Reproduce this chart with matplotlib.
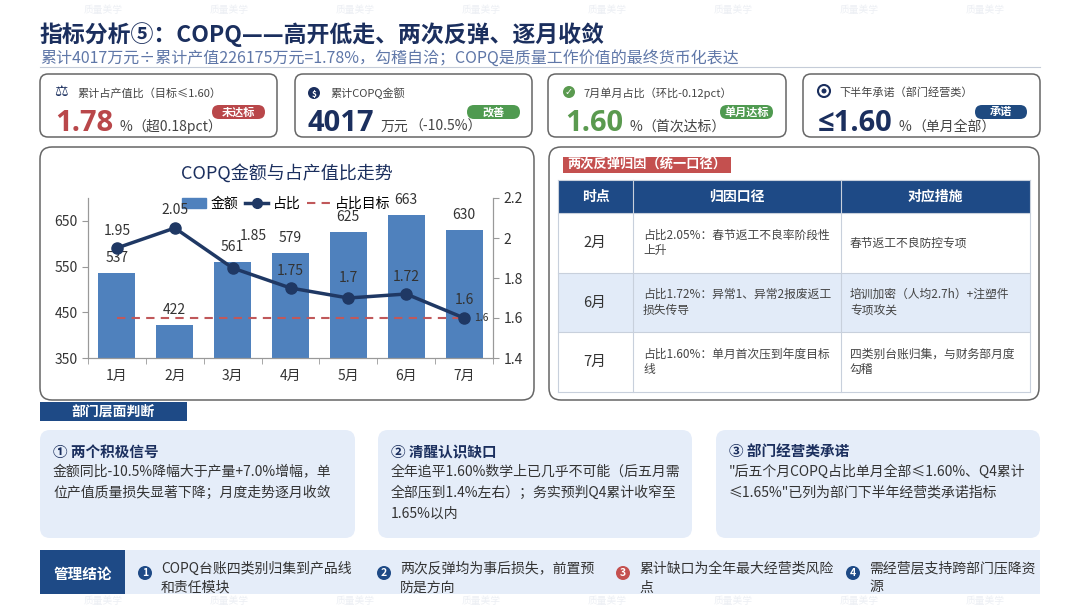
import matplotlib
matplotlib.use("Agg")
import matplotlib.pyplot as plt
from matplotlib.patches import FancyBboxPatch, Rectangle, Circle
from matplotlib.lines import Line2D

plt.rcParams['font.family'] = ['Noto Sans CJK SC', 'DejaVu Sans']

NAVY = '#1b2f5e'
BLUE_BAR = '#4f81bd'
LINE = '#1f3864'
RED = '#b9474a'
GREEN = '#5a9a4f'
GREY_TXT = '#444444'
LIGHT = '#e5edf9'
HEAD = '#1e4a86'

# data
months = ['1月', '2月', '3月', '4月', '5月', '6月', '7月']
amount = [537, 422, 561, 579, 625, 663, 630]
ratio = [1.95, 2.05, 1.85, 1.75, 1.70, 1.72, 1.60]
target = 1.6

kpi_labels = ['累计占产值比（目标≤1.60）', '累计COPQ金额', '7月单月占比（环比-0.12pct）', '下半年承诺（部门经营类）']
kpi_values = ['1.78', '4017', '1.60', '≤1.60']
kpi_units = ['%', '万元', '%', '%']
kpi_notes = ['（超0.18pct）', '（-10.5%）', '（首次达标）', '（单月全部）']
kpi_badges = ['未达标', '改善', '单月达标', '承诺']

table_header = ['时点', '归因口径', '对应措施']
table_points = ['2月', '6月', '7月']
table_causes = ['占比2.05%：春节返工不良率阶段性\n上升',
                '占比1.72%：异常1、异常2报废返工\n损失传导',
                '占比1.60%：单月首次压到年度目标\n线']
table_actions = ['春节返工不良防控专项',
                 '培训加密（人均2.7h）+注塑件\n专项攻关',
                 '四类别台账归集，与财务部月度\n勾稽']

judge_titles = ['① 两个积极信号', '② 清醒认识缺口', '③ 部门经营类承诺']
judge_texts = ['金额同比-10.5%降幅大于产量+7.0%增幅，单\n位产值质量损失显著下降；月度走势逐月收敛',
               '全年追平1.60%数学上已几乎不可能（后五月需\n全部压到1.4%左右）；务实预判Q4累计收窄至\n1.65%以内',
               '"后五个月COPQ占比单月全部≤1.60%、Q4累计\n≤1.65%"已列为部门下半年经营类承诺指标']

conclusions = ['COPQ台账四类别归集到产品线\n和责任模块',
               '两次反弹均为事后损失，前置预\n防是方向',
               '累计缺口为全年最大经营类风险\n点',
               '需经营层支持跨部门压降资\n源']

fig = plt.figure(figsize=(10.8, 6.08), dpi=100)
fig.patch.set_facecolor('white')
bg = fig.add_axes([0, 0, 1, 1])
bg.set_xlim(0, 1080)
bg.set_ylim(608, 0)
bg.axis('off')
renderer = fig.canvas.get_renderer()


def rbox(x0, y0, x1, y1, r, fc='white', ec='none', lw=1.0, z=1):
    p = FancyBboxPatch((x0, y0), x1 - x0, y1 - y0,
                       boxstyle=f'round,pad=0,rounding_size={r}',
                       fc=fc, ec=ec, lw=lw, zorder=z)
    bg.add_patch(p)


# faint watermarks
for k in range(8):
    bg.text(103 + 126 * k, 10, '质量美学', fontsize=7, color='#eceff4', ha='center', va='center')
    bg.text(103 + 126 * k, 601, '质量美学', fontsize=7, color='#eceff4', ha='center', va='center')

# title
bg.text(40, 35, '指标分析⑤：COPQ——高开低走、两次反弹、逐月收敛', fontsize=16.5,
        fontweight='bold', color=NAVY, va='center')
bg.text(40, 58, '累计4017万元÷累计产值226175万元=1.78%，勾稽自洽；COPQ是质量工作价值的最终货币化表达',
        fontsize=11.5, color='#5f77a8', va='center')
bg.plot([40, 1040], [67, 67], color='#c5ccd8', lw=0.8)

# kpi cards
card_x = [(40, 277), (295, 532), (548, 786), (803, 1040)]
num_x = [55, 308, 565, 818]
label_x = [77, 330, 583, 839]
badge_x = [(212, 265), (467, 520), (720, 773), (975, 1027)]
val_colors = [RED, NAVY, GREEN, NAVY]
badge_colors = [RED, '#4f9a50', '#4f9a50', '#1f4a80']

for i in range(4):
    x0, x1 = card_x[i]
    rbox(x0, 74, x1, 137, 8, fc='white', ec='#666666', lw=1.1)
    bg.text(label_x[i], 93, kpi_labels[i], fontsize=8, color=GREY_TXT, va='center')
    t = bg.text(num_x[i], 131, kpi_values[i], fontsize=21, fontweight='bold',
                color=val_colors[i], va='baseline', family=['Open Sans', 'DejaVu Sans'])
    xe = t.get_window_extent(renderer).x1
    t2 = bg.text(xe + 6, 131, kpi_units[i], fontsize=10, color=GREY_TXT, va='baseline')
    xe2 = t2.get_window_extent(renderer).x1
    bg.text(xe2 + 1, 131, kpi_notes[i], fontsize=10, color=GREY_TXT, va='baseline')
    bx0, bx1 = badge_x[i]
    rbox(bx0, 105, bx1, 119, 7, fc=badge_colors[i], z=2)
    bg.text((bx0 + bx1) / 2, 112, kpi_badges[i], fontsize=8, fontweight='bold',
            color='white', ha='center', va='center', zorder=3)

# icons
bg.text(61, 92, '⚖', fontsize=11, color=NAVY, ha='center', va='center', family='DejaVu Sans')
bg.add_patch(Circle((314, 93), 6, fc=NAVY, ec='none', zorder=2))
bg.text(314, 94, '$', fontsize=6, color='white', ha='center', va='center', fontweight='bold', zorder=3)
bg.add_patch(Circle((569, 92), 6, fc=GREEN, ec='none', zorder=2))
bg.text(569, 92, '✓', fontsize=7, color='white', ha='center', va='center', fontweight='bold',
        family='DejaVu Sans', zorder=3)
bg.add_patch(Circle((824, 91), 6, fc='none', ec=NAVY, lw=1.5, zorder=2))
bg.add_patch(Circle((824, 91), 2.5, fc=NAVY, ec='none', zorder=2))

# chart panel
rbox(40, 147, 534, 400, 12, fc='white', ec='#666666', lw=1.1)
bg.text(287, 173, 'COPQ金额与占产值比走势', fontsize=13, color=NAVY, ha='center', va='center')

ax = fig.add_axes([88 / 1080, 1 - 358 / 608, 405 / 1080, 160 / 608])
x = list(range(len(months)))
ax.bar(x, amount, width=0.64, color=BLUE_BAR, zorder=2)
ax.set_ylim(350, 700)
ax.set_xlim(-0.5, 6.5)
ax.set_yticks([350, 450, 550, 650])
ax.set_xticks(x)
ax.set_xticklabels(months)
ax.set_xticks([i + 0.5 for i in range(-1, 7)], minor=True)
ax.tick_params(axis='x', which='major', length=0, labelsize=10, colors='#333333', pad=8)
ax.tick_params(axis='x', which='minor', length=4, color='#999999')
ax.tick_params(axis='y', length=4, labelsize=10, colors='#333333', color='#999999')
ax.spines['top'].set_visible(False)
for s in ['left', 'right', 'bottom']:
    ax.spines[s].set_color('#999999')
for i, v in enumerate(amount):
    ax.annotate(str(v), (i, v), xytext=(0, 15), textcoords='offset pixels',
                ha='center', va='center', fontsize=10, color='#333333')

ax2 = ax.twinx()
ax2.set_ylim(1.4, 2.2)
ax2.set_yticks([1.4, 1.6, 1.8, 2.0, 2.2])
ax2.set_yticklabels(['1.4', '1.6', '1.8', '2', '2.2'])
ax2.tick_params(axis='y', length=4, labelsize=10, colors='#333333', color='#999999')
ax2.spines['top'].set_visible(False)
for s in ['left', 'right', 'bottom']:
    ax2.spines[s].set_color('#999999')
ax2.plot([0, 6], [target, target], ls=(0, (4, 3)), color='#c0585a', lw=1.5, zorder=3)
ax2.plot(x, ratio, color=LINE, lw=2.5, marker='o', markersize=8, zorder=4)
ratio_offsets = [(0, 17), (0, 18), (21, 32), (0, 17), (0, 20), (0, 17), (0, 18)]
for i, v in enumerate(ratio):
    ax2.annotate(f'{v:g}', (i, v), xytext=ratio_offsets[i], textcoords='offset pixels',
                 ha='center', va='center', fontsize=10, color='#333333')
ax2.annotate('1.6', (6, target), xytext=(17, 0), textcoords='offset pixels',
             ha='center', va='center', fontsize=7.5, color='#333333')

handles = [Rectangle((0, 0), 1, 1, color=BLUE_BAR),
           Line2D([], [], color=LINE, lw=2.5, marker='o', markersize=7),
           Line2D([], [], color='#c0585a', lw=1.5, ls=(0, (4, 3)))]
ax.legend(handles, ['金额', '占比', '占比目标'], loc='upper center', bbox_to_anchor=(0.49, 1.07),
          ncol=3, frameon=False, fontsize=10, handlelength=1.7, handletextpad=0.3,
          columnspacing=0.5, borderpad=0.2)

# right table panel
rbox(549, 147, 1039, 400, 12, fc='white', ec='#666666', lw=1.1)
bg.add_patch(Rectangle((563, 157), 168, 16, fc='#c4504f', ec='none', zorder=2))
bg.text(567, 165, '两次反弹归因（统一口径）', fontsize=9.5, fontweight='bold', color='white',
        va='center', zorder=3)

col_x = [558, 633, 841, 1030]
row_y = [180, 213, 273, 332, 392]
bg.add_patch(Rectangle((558, 180), 472, 33, fc=HEAD, ec='none', zorder=2))
bg.add_patch(Rectangle((558, 273), 472, 59, fc='#e2ebf8', ec='none', zorder=2))
for cx in col_x:
    bg.plot([cx, cx], [180, 392], color='#c8d0dc', lw=0.8, zorder=3)
for ry in row_y:
    bg.plot([558, 1030], [ry, ry], color='#c8d0dc', lw=0.8, zorder=3)
for j, h in enumerate(table_header):
    bg.text((col_x[j] + col_x[j + 1]) / 2, 197, h, fontsize=10, fontweight='bold',
            color='white', ha='center', va='center', zorder=4)
for k in range(3):
    cy = (row_y[k + 1] + row_y[k + 2]) / 2
    bg.text(595, cy, table_points[k], fontsize=10.5, color='#333333', ha='center', va='center', zorder=4)
    bg.text(643, cy, table_causes[k], fontsize=8.5, color=GREY_TXT, va='center', linespacing=1.25, zorder=4)
    bg.text(850, cy, table_actions[k], fontsize=8.5, color=GREY_TXT, va='center', linespacing=1.25, zorder=4)

# department judgement
bg.add_patch(Rectangle((40, 402), 147, 19, fc=HEAD, ec='none', zorder=2))
bg.text(113, 411.5, '部门层面判断', fontsize=10, fontweight='bold', color='white',
        ha='center', va='center', zorder=3)

judge_x = [(40, 355), (378, 692), (716, 1040)]
for i in range(3):
    x0, x1 = judge_x[i]
    rbox(x0, 430, x1, 538, 10, fc=LIGHT)
    bg.text(x0 + 13, 452, judge_titles[i], fontsize=10.5, fontweight='bold', color=NAVY, va='center')
    bg.text(x0 + 13, 465, judge_texts[i], fontsize=10, color='#333333', va='top', linespacing=1.58)

# management conclusion
bg.add_patch(Rectangle((125, 550), 915, 44, fc=LIGHT, ec='none', zorder=1))
bg.add_patch(Rectangle((40, 550), 85, 44, fc=HEAD, ec='none', zorder=2))
bg.text(83, 574, '管理结论', fontsize=10.5, fontweight='bold', color='white',
        ha='center', va='center', zorder=3)
circ_x = [145, 384, 623, 853]
circ_c = [HEAD, HEAD, '#c4504f', HEAD]
for i in range(4):
    bg.add_patch(Circle((circ_x[i], 573), 7, fc=circ_c[i], ec='none', zorder=2))
    bg.text(circ_x[i], 573, str(i + 1), fontsize=7.5, fontweight='bold', color='white',
            ha='center', va='center', zorder=3)
    bg.text(circ_x[i] + 16, 578, conclusions[i], fontsize=10, color='#333333',
            va='center', linespacing=1.45, zorder=3)

fig.savefig('out.png', dpi=100)
